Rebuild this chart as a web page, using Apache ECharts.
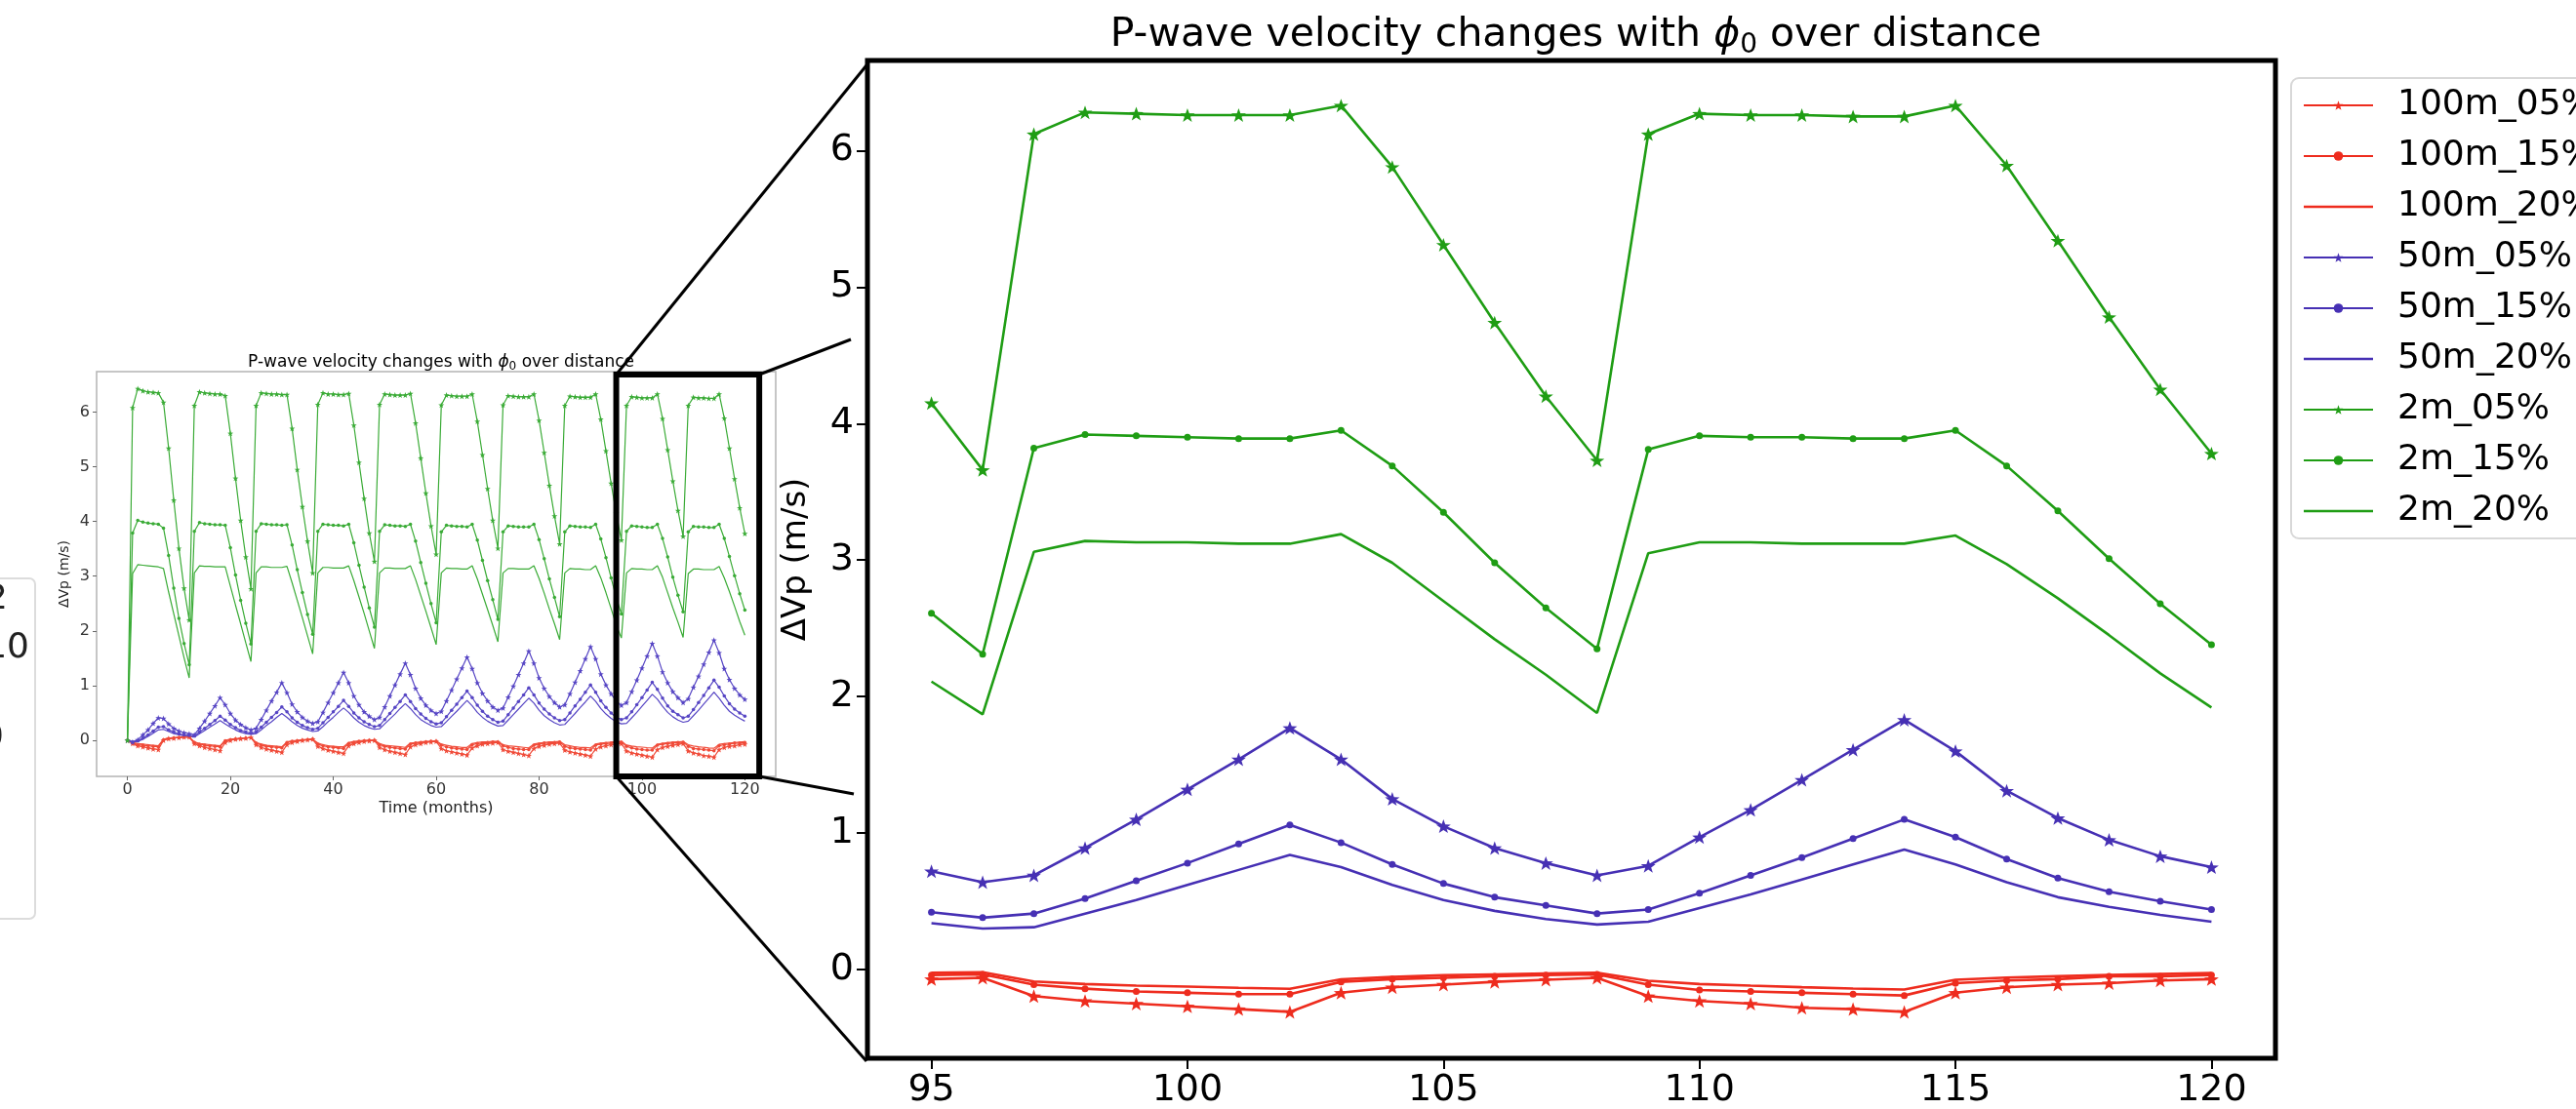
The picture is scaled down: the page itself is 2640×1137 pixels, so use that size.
<!DOCTYPE html>
<html>
<head>
<meta charset="utf-8">
<script src="https://cdn.jsdelivr.net/npm/echarts@6/dist/echarts.min.js"></script>
<style>
html, body { margin: 0; padding: 0; background: #fff; }
#chart { width: 2640px; height: 1137px; }
</style>
</head>
<body>
<div id="chart"></div>
<script>
const FONT = "DejaVu Sans";

// ΔVp (m/s) per month, index = month 0..120
const r05 = [0,
  -0.06, -0.10, -0.12, -0.14, -0.16, -0.17, 0.00, 0.03, 0.04, 0.05, 0.06, 0.06,
  -0.06, -0.10, -0.13, -0.15, -0.17, -0.19, -0.04, 0.00, 0.02, 0.03, 0.04, 0.05,
  -0.08, -0.13, -0.16, -0.18, -0.20, -0.22, -0.08, -0.04, -0.02, 0.00, 0.01, 0.02,
  -0.11, -0.15, -0.18, -0.20, -0.22, -0.24, -0.10, -0.06, -0.04, -0.02, -0.01, 0.00,
  -0.13, -0.17, -0.20, -0.22, -0.24, -0.26, -0.12, -0.08, -0.06, -0.04, -0.03, -0.02,
  -0.15, -0.19, -0.21, -0.23, -0.25, -0.27, -0.14, -0.10, -0.07, -0.06, -0.05, -0.04,
  -0.17, -0.20, -0.22, -0.24, -0.26, -0.28, -0.15, -0.11, -0.09, -0.07, -0.06, -0.05,
  -0.18, -0.21, -0.23, -0.25, -0.27, -0.29, -0.16, -0.12, -0.10, -0.08, -0.07, -0.06,
  -0.195, -0.23, -0.25, -0.27, -0.29, -0.31, -0.17, -0.13, -0.11, -0.09, -0.075, -0.06,
  -0.195, -0.23, -0.25, -0.28, -0.29, -0.31, -0.17, -0.13, -0.11, -0.10, -0.08, -0.07];
const r15 = [0,
  -0.05, -0.08, -0.09, -0.10, -0.11, -0.12, 0.01, 0.03, 0.04, 0.05, 0.06, 0.06,
  -0.04, -0.07, -0.09, -0.10, -0.11, -0.12, -0.01, 0.01, 0.02, 0.03, 0.04, 0.05,
  -0.05, -0.09, -0.11, -0.12, -0.13, -0.14, -0.04, -0.02, -0.01, 0.00, 0.01, 0.02,
  -0.07, -0.10, -0.12, -0.13, -0.14, -0.15, -0.06, -0.04, -0.02, -0.01, 0.00, 0.00,
  -0.08, -0.11, -0.13, -0.14, -0.15, -0.16, -0.07, -0.05, -0.04, -0.03, -0.02, -0.02,
  -0.09, -0.12, -0.14, -0.15, -0.16, -0.17, -0.08, -0.06, -0.05, -0.04, -0.03, -0.03,
  -0.10, -0.13, -0.15, -0.16, -0.17, -0.17, -0.09, -0.07, -0.05, -0.05, -0.04, -0.03,
  -0.11, -0.14, -0.15, -0.16, -0.17, -0.18, -0.09, -0.07, -0.06, -0.05, -0.04, -0.035,
  -0.11, -0.14, -0.16, -0.17, -0.18, -0.18, -0.09, -0.07, -0.06, -0.05, -0.04, -0.035,
  -0.11, -0.15, -0.16, -0.17, -0.18, -0.19, -0.10, -0.08, -0.07, -0.05, -0.05, -0.04];
const r20 = [0,
  -0.04, -0.06, -0.07, -0.08, -0.09, -0.10, 0.02, 0.04, 0.05, 0.05, 0.06, 0.06,
  -0.03, -0.06, -0.07, -0.08, -0.09, -0.10, 0.00, 0.02, 0.03, 0.04, 0.04, 0.05,
  -0.04, -0.07, -0.09, -0.10, -0.11, -0.12, -0.03, -0.01, 0.00, 0.01, 0.01, 0.02,
  -0.05, -0.08, -0.10, -0.11, -0.12, -0.12, -0.04, -0.02, -0.01, 0.00, 0.00, 0.00,
  -0.06, -0.09, -0.10, -0.11, -0.12, -0.13, -0.05, -0.04, -0.03, -0.02, -0.02, -0.01,
  -0.07, -0.09, -0.11, -0.12, -0.13, -0.13, -0.06, -0.04, -0.03, -0.03, -0.02, -0.02,
  -0.08, -0.10, -0.11, -0.12, -0.13, -0.14, -0.07, -0.05, -0.04, -0.03, -0.03, -0.02,
  -0.08, -0.10, -0.12, -0.13, -0.13, -0.14, -0.07, -0.05, -0.04, -0.035, -0.024, -0.02,
  -0.087, -0.106, -0.118, -0.125, -0.134, -0.141, -0.071, -0.054, -0.042, -0.035, -0.028, -0.024,
  -0.082, -0.106, -0.118, -0.129, -0.139, -0.146, -0.075, -0.059, -0.049, -0.040, -0.033, -0.026];
const b05 = [0,
  -0.03, 0.01, 0.10, 0.19, 0.31, 0.41, 0.40, 0.30, 0.22, 0.17, 0.14, 0.12,
  0.10, 0.22, 0.35, 0.49, 0.63, 0.78, 0.65, 0.49, 0.37, 0.29, 0.23, 0.19,
  0.22, 0.38, 0.55, 0.72, 0.88, 1.05, 0.87, 0.66, 0.52, 0.42, 0.35, 0.31,
  0.34, 0.51, 0.69, 0.87, 1.05, 1.24, 1.05, 0.81, 0.65, 0.52, 0.44, 0.38,
  0.42, 0.61, 0.81, 1.01, 1.21, 1.41, 1.20, 0.95, 0.77, 0.64, 0.55, 0.49,
  0.53, 0.72, 0.92, 1.12, 1.32, 1.52, 1.31, 1.05, 0.86, 0.72, 0.61, 0.55,
  0.59, 0.79, 0.99, 1.20, 1.41, 1.63, 1.41, 1.14, 0.95, 0.80, 0.69, 0.61,
  0.65, 0.85, 1.06, 1.27, 1.49, 1.71, 1.49, 1.21, 1.01, 0.85, 0.72, 0.64,
  0.69, 0.89, 1.10, 1.32, 1.54, 1.77, 1.54, 1.25, 1.05, 0.89, 0.78, 0.69,
  0.76, 0.97, 1.17, 1.39, 1.61, 1.83, 1.60, 1.31, 1.11, 0.95, 0.83, 0.75];
const b15 = [0,
  -0.03, -0.01, 0.04, 0.10, 0.17, 0.24, 0.25, 0.19, 0.15, 0.12, 0.10, 0.09,
  0.08, 0.15, 0.22, 0.29, 0.36, 0.44, 0.37, 0.29, 0.23, 0.18, 0.15, 0.13,
  0.15, 0.24, 0.33, 0.42, 0.51, 0.61, 0.52, 0.41, 0.33, 0.27, 0.23, 0.20,
  0.22, 0.32, 0.42, 0.52, 0.62, 0.73, 0.62, 0.50, 0.41, 0.34, 0.29, 0.25,
  0.27, 0.38, 0.49, 0.60, 0.71, 0.83, 0.71, 0.58, 0.48, 0.40, 0.34, 0.30,
  0.32, 0.43, 0.55, 0.66, 0.78, 0.90, 0.78, 0.64, 0.53, 0.44, 0.38, 0.33,
  0.35, 0.47, 0.59, 0.71, 0.83, 0.96, 0.83, 0.68, 0.57, 0.48, 0.41, 0.36,
  0.38, 0.50, 0.63, 0.75, 0.88, 1.01, 0.88, 0.72, 0.60, 0.50, 0.42, 0.38,
  0.41, 0.52, 0.65, 0.78, 0.92, 1.06, 0.93, 0.77, 0.63, 0.53, 0.47, 0.41,
  0.44, 0.56, 0.69, 0.82, 0.96, 1.10, 0.97, 0.81, 0.67, 0.57, 0.50, 0.44];
const b20 = [0,
  -0.03, -0.02, 0.02, 0.07, 0.13, 0.19, 0.20, 0.16, 0.12, 0.10, 0.08, 0.07,
  0.06, 0.12, 0.18, 0.24, 0.30, 0.36, 0.30, 0.24, 0.19, 0.15, 0.12, 0.11,
  0.12, 0.19, 0.27, 0.34, 0.42, 0.49, 0.42, 0.34, 0.27, 0.22, 0.19, 0.16,
  0.17, 0.25, 0.34, 0.42, 0.51, 0.59, 0.51, 0.41, 0.33, 0.27, 0.23, 0.20,
  0.21, 0.30, 0.39, 0.48, 0.58, 0.67, 0.58, 0.47, 0.38, 0.32, 0.27, 0.24,
  0.25, 0.34, 0.44, 0.53, 0.63, 0.73, 0.63, 0.51, 0.42, 0.35, 0.30, 0.26,
  0.27, 0.37, 0.47, 0.57, 0.67, 0.77, 0.68, 0.55, 0.45, 0.38, 0.32, 0.28,
  0.29, 0.39, 0.49, 0.60, 0.70, 0.81, 0.71, 0.58, 0.48, 0.40, 0.34, 0.30,
  0.31, 0.41, 0.51, 0.62, 0.73, 0.84, 0.75, 0.62, 0.51, 0.43, 0.37, 0.33,
  0.35, 0.45, 0.55, 0.66, 0.77, 0.88, 0.77, 0.64, 0.53, 0.46, 0.40, 0.35];
const g05 = [0,
  6.08, 6.43, 6.39, 6.37, 6.36, 6.35, 6.18, 5.34, 4.39, 3.51, 2.78, 2.20,
  6.12, 6.37, 6.35, 6.34, 6.33, 6.33, 6.30, 5.61, 4.79, 4.02, 3.35, 2.77,
  6.12, 6.35, 6.34, 6.33, 6.33, 6.32, 6.32, 5.70, 4.95, 4.27, 3.64, 3.06,
  6.14, 6.35, 6.33, 6.33, 6.32, 6.32, 6.34, 5.76, 5.08, 4.42, 3.79, 3.27,
  6.14, 6.33, 6.32, 6.31, 6.31, 6.31, 6.34, 5.80, 5.16, 4.52, 3.92, 3.40,
  6.13, 6.31, 6.30, 6.29, 6.29, 6.29, 6.33, 5.83, 5.22, 4.60, 4.02, 3.51,
  6.13, 6.30, 6.29, 6.28, 6.28, 6.28, 6.33, 5.85, 5.26, 4.66, 4.10, 3.59,
  6.12, 6.29, 6.28, 6.27, 6.27, 6.27, 6.33, 5.87, 5.29, 4.70, 4.15, 3.66,
  6.12, 6.28, 6.27, 6.26, 6.26, 6.26, 6.33, 5.88, 5.31, 4.74, 4.20, 3.73,
  6.12, 6.27, 6.26, 6.26, 6.25, 6.25, 6.33, 5.89, 5.34, 4.78, 4.25, 3.78];
const g15 = [0,
  3.79, 4.02, 3.99, 3.97, 3.96, 3.95, 3.88, 3.38, 2.78, 2.23, 1.77, 1.38,
  3.82, 3.98, 3.96, 3.95, 3.94, 3.94, 3.93, 3.52, 3.02, 2.56, 2.14, 1.76,
  3.82, 3.96, 3.95, 3.94, 3.94, 3.93, 3.94, 3.57, 3.12, 2.70, 2.30, 1.94,
  3.82, 3.95, 3.94, 3.93, 3.93, 3.92, 3.95, 3.61, 3.20, 2.80, 2.42, 2.07,
  3.82, 3.94, 3.93, 3.92, 3.92, 3.91, 3.95, 3.64, 3.25, 2.87, 2.50, 2.15,
  3.81, 3.93, 3.92, 3.91, 3.91, 3.90, 3.95, 3.66, 3.29, 2.92, 2.57, 2.21,
  3.81, 3.92, 3.91, 3.90, 3.90, 3.90, 3.95, 3.67, 3.32, 2.95, 2.61, 2.26,
  3.81, 3.92, 3.91, 3.90, 3.90, 3.89, 3.95, 3.68, 3.34, 2.97, 2.61, 2.31,
  3.82, 3.92, 3.91, 3.90, 3.89, 3.89, 3.95, 3.69, 3.35, 2.98, 2.65, 2.35,
  3.81, 3.91, 3.90, 3.90, 3.89, 3.89, 3.95, 3.69, 3.36, 3.01, 2.68, 2.38];
const g20 = [0,
  3.05, 3.21, 3.20, 3.19, 3.18, 3.17, 3.14, 2.71, 2.31, 1.91, 1.51, 1.14,
  3.06, 3.19, 3.18, 3.18, 3.17, 3.17, 3.17, 2.82, 2.47, 2.13, 1.78, 1.44,
  3.06, 3.17, 3.17, 3.16, 3.16, 3.16, 3.18, 2.88, 2.56, 2.24, 1.91, 1.58,
  3.06, 3.16, 3.16, 3.15, 3.15, 3.15, 3.19, 2.92, 2.62, 2.32, 2.00, 1.68,
  3.06, 3.15, 3.15, 3.14, 3.14, 3.14, 3.19, 2.94, 2.65, 2.36, 2.06, 1.75,
  3.06, 3.15, 3.14, 3.14, 3.13, 3.13, 3.19, 2.95, 2.67, 2.39, 2.10, 1.80,
  3.06, 3.14, 3.14, 3.13, 3.13, 3.13, 3.19, 2.96, 2.69, 2.40, 2.13, 1.84,
  3.06, 3.14, 3.13, 3.13, 3.12, 3.12, 3.19, 2.97, 2.70, 2.41, 2.11, 1.87,
  3.06, 3.14, 3.13, 3.13, 3.12, 3.12, 3.19, 2.98, 2.70, 2.42, 2.16, 1.88,
  3.05, 3.13, 3.13, 3.12, 3.12, 3.12, 3.18, 2.97, 2.72, 2.45, 2.17, 1.92];

const names = ["100m_05%", "100m_15%", "100m_20%", "50m_05%", "50m_15%", "50m_20%", "2m_05%", "2m_15%", "2m_20%"];
const values = [r05, r15, r20, b05, b15, b20, g05, g15, g20];
const marks = ["star", "dot", "none", "star", "dot", "none", "star", "dot", "none"];
const groups = [0, 0, 0, 1, 1, 1, 2, 2, 2];

const mainXTicks = [95, 100, 105, 110, 115, 120];
const mainYTicks = [0, 1, 2, 3, 4, 5, 6];
const insetXTicks = [0, 20, 40, 60, 80, 100, 120];
const insetYTicks = [0, 1, 2, 3, 4, 5, 6];
const zoomStart = 95;
const zoomFrom = 95, zoomTo = 122.8;

const mainColors = ["#ee2c1e", "#4630b4", "#1f9d14"];
const insetColors = ["#f04a38", "#5645c4", "#3aab36"];
const STAR = "path://M0,-10L2.35,-3.24L9.51,-3.09L3.8,1.24L5.88,8.09L0,4L-5.88,8.09L-3.8,1.24L-9.51,-3.09L-2.35,-3.24Z";

const mainGrid = { left: 889, top: 62, width: 1443, height: 1029 };
const insetGrid = { left: 99, top: 381, width: 696, height: 415 };

function makeSeries(i, inset) {
	let data = [];
	let start = inset ? 0 : zoomStart;
	for (let m = start; m < values[i].length; m++) {
		data.push([m, values[i][m]]);
	}
	let color = inset ? insetColors[groups[i]] : mainColors[groups[i]];
	let mark = marks[i];
	let size;
	if (mark === "star") size = inset ? [6, 6] : [15, 14];
	else size = inset ? 3.5 : 7;
	return {
		type: "line",
		name: names[i],
		xAxisIndex: inset ? 1 : 0,
		yAxisIndex: inset ? 1 : 0,
		data: data,
		symbol: mark === "star" ? STAR : mark === "dot" ? "circle" : "none",
		symbolSize: size,
		showSymbol: mark !== "none",
		lineStyle: { color: color, width: inset ? 1.2 : 2.6 },
		itemStyle: { color: color },
		emphasis: { disabled: true },
		silent: true,
		z: inset ? 2 : 3
	};
}

let series = [];
names.forEach((n, i) => series.push(makeSeries(i, false)));
names.forEach((n, i) => series.push(makeSeries(i, true)));

function titleText(size, subSize, lh) {
	return {
		text: "{a|P-wave velocity changes with }{b|ϕ}{c|0}{a| over distance}",
		textStyle: {
			rich: {
				a: { fontFamily: FONT, fontSize: size, color: "#000", lineHeight: lh, fontWeight: "normal" },
				b: { fontFamily: FONT, fontSize: size, color: "#000", lineHeight: lh, fontWeight: "normal", fontStyle: "italic" },
				c: { fontFamily: FONT, fontSize: subSize, color: "#000", lineHeight: subSize, fontWeight: "normal", verticalAlign: "bottom" }
			}
		}
	};
}

let option = {
	animation: false,
	backgroundColor: "#fff",
	title: [
		Object.assign({ left: 1610, top: 6, textAlign: "center" }, titleText(41, 28, 50)),
		Object.assign({ left: 447, top: 356, textAlign: "center" }, titleText(17, 12, 21))
	],
	legend: {
		orient: "vertical",
		left: 2348,
		top: 80,
		itemWidth: 71,
		itemHeight: 12,
		itemGap: 12,
		padding: [8, 14, 8, 12],
		borderColor: "#d8d8d8",
		borderWidth: 2,
		borderRadius: 8,
		backgroundColor: "#fff",
		selectedMode: false,
		textStyle: { fontFamily: FONT, fontSize: 36, color: "#000", lineHeight: 40, padding: [0, 0, 0, 20] },
		data: names.map((n, i) => marks[i] === "none" ? { name: n, icon: "path://M0,0H71V2.6H0Z" } : { name: n })
	},
	grid: [
		Object.assign({ show: true, borderColor: "#000", borderWidth: 5, backgroundColor: "transparent" }, mainGrid),
		Object.assign({ show: true, borderColor: "#b4b4b4", borderWidth: 1.5, backgroundColor: "transparent" }, insetGrid)
	],
	xAxis: [
		{
			type: "value", gridIndex: 0, min: 93.75, max: 121.25,
			splitLine: { show: false },
			axisLine: { show: false, onZero: false },
			axisTick: { show: true, length: 11, lineStyle: { color: "#000", width: 2 }, customValues: mainXTicks },
			axisLabel: { customValues: mainXTicks, fontFamily: FONT, fontSize: 38, color: "#000", margin: 14 }
		},
		{
			type: "value", gridIndex: 1, min: -6, max: 126,
			name: "Time (months)", nameLocation: "middle", nameGap: 25,
			nameTextStyle: { fontFamily: FONT, fontSize: 16, color: "#222" },
			splitLine: { show: false },
			axisLine: { show: false, onZero: false },
			axisTick: { show: true, length: 4, lineStyle: { color: "#666", width: 1 }, customValues: insetXTicks },
			axisLabel: { customValues: insetXTicks, fontFamily: FONT, fontSize: 16, color: "#333", margin: 6 }
		}
	],
	yAxis: [
		{
			type: "value", gridIndex: 0, min: -0.65, max: 6.66,
			name: "ΔVp (m/s)", nameLocation: "middle", nameGap: 56, nameRotate: 90,
			nameTextStyle: { fontFamily: FONT, fontSize: 34, color: "#000" },
			splitLine: { show: false },
			axisLine: { show: false, onZero: false },
			axisTick: { show: true, length: 11, lineStyle: { color: "#000", width: 2 }, customValues: mainYTicks },
			axisLabel: { customValues: mainYTicks, fontFamily: FONT, fontSize: 38, color: "#000", margin: 14 }
		},
		{
			type: "value", gridIndex: 1, min: -0.66, max: 6.74,
			name: "ΔVp (m/s)", nameLocation: "middle", nameGap: 26, nameRotate: 90,
			nameTextStyle: { fontFamily: FONT, fontSize: 14, color: "#222" },
			splitLine: { show: false },
			axisLine: { show: false, onZero: false },
			axisTick: { show: true, length: 4, lineStyle: { color: "#666", width: 1 }, customValues: insetYTicks },
			axisLabel: { customValues: insetYTicks, fontFamily: FONT, fontSize: 16, color: "#333", margin: 7 }
		}
	],
	series: series
};

let chart = echarts.init(document.getElementById("chart"), null, { renderer: "canvas" });
chart.setOption(option);

// zoom box on the inset and the connector lines to the main panel
let p1 = chart.convertToPixel({ gridIndex: 1 }, [zoomFrom, 0]);
let p2 = chart.convertToPixel({ gridIndex: 1 }, [zoomTo, 0]);
let boxTop = insetGrid.top + 3;
let boxBottom = insetGrid.top + insetGrid.height;
let mainBottom = mainGrid.top + mainGrid.height;
let line = (x1, y1, x2, y2) => ({
	type: "line", z: 100, silent: true,
	shape: { x1: x1, y1: y1, x2: x2, y2: y2 },
	style: { stroke: "#000", lineWidth: 3 }
});

chart.setOption({
	graphic: [
		{
			type: "rect", z: 100, silent: true,
			shape: { x: p1[0], y: boxTop, width: p2[0] - p1[0], height: boxBottom - boxTop },
			style: { fill: "none", stroke: "#000", lineWidth: 6 }
		},
		line(p1[0], boxTop, mainGrid.left - 1, mainGrid.top + 5),
		line(p2[0], boxTop, mainGrid.left - 17, 348),
		line(p2[0], boxBottom, mainGrid.left - 14, 814),
		line(p1[0], boxBottom, mainGrid.left - 1, mainBottom - 3),
		{
			type: "rect", z: 1, silent: true,
			shape: { x: -300, y: 593, width: 336, height: 349, r: 6 },
			style: { fill: "#fff", stroke: "#dcdcdc", lineWidth: 2 }
		},
		{ type: "text", z: 2, silent: true, style: { text: "2", x: 8, y: 615, align: "right", verticalAlign: "middle", font: "36px DejaVu Sans", fill: "#222" } },
		{ type: "text", z: 2, silent: true, style: { text: "10", x: 30, y: 665, align: "right", verticalAlign: "middle", font: "36px DejaVu Sans", fill: "#222" } },
		{ type: "text", z: 2, silent: true, style: { text: "0", x: 4, y: 757, align: "right", verticalAlign: "middle", font: "36px DejaVu Sans", fill: "#222" } }
	]
});
</script>
</body>
</html>
